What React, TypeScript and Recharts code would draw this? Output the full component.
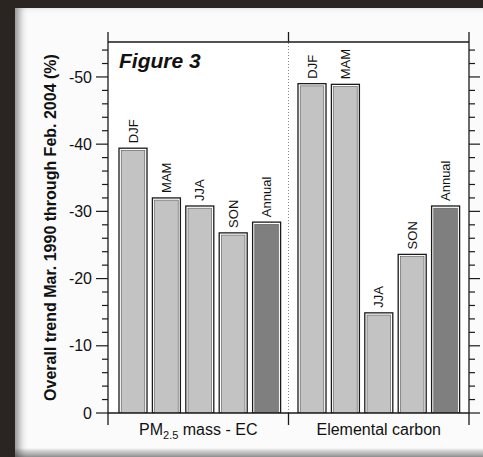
import { BarChart, Bar, XAxis, YAxis, Cell, LabelList, ReferenceLine } from "recharts";

// seasonal trend, Mar. 1990 - Feb. 2004 (%)
const seasons = ["DJF", "MAM", "JJA", "SON", "Annual"];
const pmMassEc = [-39.4, -32.0, -30.8, -26.8, -28.4];
const elementalCarbon = [-49.0, -48.9, -14.9, -23.6, -30.8];

const groupNames = ["PM2.5 mass - EC", "Elemental carbon"];
const majorTicks = [0, -10, -20, -30, -40, -50];
const allTicks = [
  0, -2, -4, -6, -8, -10, -12, -14, -16, -18, -20, -22, -24, -26, -28, -30,
  -32, -34, -36, -38, -40, -42, -44, -46, -48, -50, -52, -54,
];
const frameTicks = [0, 1, 2];
const groupTicks = [0, 0.5, 1, 1.5, 2];

const data = seasons.map((season, i) => ({
  season,
  pm: pmMassEc[i],
  ec: elementalCarbon[i],
}));

const FONT = "'Liberation Sans', Arial, Helvetica, sans-serif";
const INK = "#1a1a1a";
const LIGHT = "#c3c3c3";
const DARK = "#7f7f7f";

function BarShape(props: any) {
  const { x, y, width, height, fill } = props;
  const top = Math.min(y, y + height);
  const h = Math.abs(height);
  return (
    <g>
      <rect x={x} y={top} width={width} height={h} fill="#fff" stroke={INK} strokeWidth={1.3} />
      <rect
        x={x + 2.2}
        y={top + 2.2}
        width={Math.max(width - 4.4, 0)}
        height={Math.max(h - 2.2, 0)}
        fill={fill}
        stroke="#555"
        strokeWidth={0.6}
      />
    </g>
  );
}

function SeasonLabel(props: any) {
  const { x, y, width, height, value } = props;
  const top = Math.min(y, y + height);
  const cx = x + width / 2;
  const cy = top - 5;
  return (
    <text
      x={cx}
      y={cy}
      transform={`rotate(-90 ${cx} ${cy})`}
      textAnchor="start"
      dy="0.35em"
      fontSize={13}
      fontFamily={FONT}
      fill="#111"
    >
      {value}
    </text>
  );
}

function LeftTick(props: any) {
  const { x, y, payload } = props;
  const major = majorTicks.includes(payload.value);
  return (
    <g>
      <line x1={x - (major ? 12 : 6)} x2={x} y1={y} y2={y} stroke={INK} strokeWidth={1.2} />
      {major && (
        <text x={x - 16} y={y} dy="0.35em" textAnchor="end" fontSize={16} fontFamily={FONT} fill="#111">
          {payload.value}
        </text>
      )}
    </g>
  );
}

function RightTick(props: any) {
  const { x, y, payload } = props;
  const major = majorTicks.includes(payload.value);
  return <line x1={x} x2={x + (major ? 11 : 6)} y1={y} y2={y} stroke={INK} strokeWidth={1.2} />;
}

function TopTick(props: any) {
  const { x, y } = props;
  return <line x1={x} x2={x} y1={y} y2={y - 10} stroke={INK} strokeWidth={1.3} />;
}

function BottomTick(props: any) {
  const { x, y, payload } = props;
  if (Number.isInteger(payload.value)) {
    return <line x1={x} x2={x} y1={y} y2={y + 12} stroke={INK} strokeWidth={1.3} />;
  }
  const name = groupNames[Math.floor(payload.value)];
  const isPm = name.startsWith("PM2.5");
  return (
    <text x={x} y={y + 22} textAnchor="middle" fontSize={16} fontFamily={FONT} fill="#111">
      {isPm ? (
        <>
          <tspan>PM</tspan>
          <tspan fontSize={11} dy={4}>2.5</tspan>
          <tspan dy={-4}>{name.slice(5)}</tspan>
        </>
      ) : (
        name
      )}
    </text>
  );
}

function YTitle(props: any) {
  const { viewBox } = props;
  const cx = viewBox.x + 2;
  const cy = viewBox.y + viewBox.height / 2;
  return (
    <text
      x={cx}
      y={cy}
      transform={`rotate(-90 ${cx} ${cy})`}
      textAnchor="middle"
      dy="0.35em"
      fontSize={16}
      fontWeight="bold"
      fontFamily={FONT}
      fill="#111"
    >
      Overall trend Mar. 1990 through Feb. 2004 (%)
    </text>
  );
}

export default function App() {
  return (
    <div style={{ position: "relative", width: 483, height: 457, background: "#2a2521", overflow: "hidden" }}>
      <style>{`body{margin:0}`}</style>
      <div
        style={{
          position: "absolute",
          left: 15,
          top: 8,
          right: 0,
          bottom: 0,
          background: "linear-gradient(to bottom, #fbfbfb 0, #fbfbfb 440px, #d0d0d0 443px, #9a9a9a 449px)",
          boxShadow: "inset 8px 0 8px -4px rgba(0,0,0,0.45)",
        }}
      />
      <div style={{ position: "absolute", left: 108, top: 42, width: 361, height: 371, background: "#fff" }} />
      <div style={{ position: "absolute", left: 0, top: 0 }}>
        <BarChart width={483} height={457} data={data} margin={{ top: 32, right: 0, bottom: 14, left: 48 }}>
          <XAxis
            xAxisId="frame"
            dataKey="frameX"
            type="number"
            domain={[0, 2]}
            allowDataOverflow
            ticks={groupTicks}
            interval={0}
            height={30}
            tickSize={0}
            tickMargin={0}
            tickLine={false}
            axisLine={{ stroke: INK, strokeWidth: 1.3 }}
            tick={<BottomTick />}
          />
          <XAxis xAxisId="pm" dataKey="season" hide height={0} padding={{ left: 8, right: 186 }} />
          <XAxis xAxisId="ec" dataKey="season" hide height={0} padding={{ left: 187, right: 7 }} />
          <XAxis
            xAxisId="top"
            dataKey="frameX"
            orientation="top"
            type="number"
            domain={[0, 2]}
            allowDataOverflow
            ticks={frameTicks}
            interval={0}
            height={10}
            tickSize={0}
            tickMargin={0}
            tickLine={false}
            axisLine={{ stroke: INK, strokeWidth: 1.3 }}
            tick={<TopTick />}
          />
          <YAxis
            yAxisId="left"
            type="number"
            domain={[-55.2, 0]}
            reversed
            allowDataOverflow
            ticks={allTicks}
            interval={0}
            width={60}
            tickSize={0}
            tickMargin={0}
            tickLine={false}
            axisLine={{ stroke: INK, strokeWidth: 1.3 }}
            tick={<LeftTick />}
            label={{ content: <YTitle /> }}
          />
          <YAxis
            yAxisId="right"
            orientation="right"
            type="number"
            domain={[-55.2, 0]}
            reversed
            allowDataOverflow
            ticks={allTicks}
            interval={0}
            width={14}
            tickSize={0}
            tickMargin={0}
            tickLine={false}
            axisLine={{ stroke: INK, strokeWidth: 1.3 }}
            tick={<RightTick />}
          />
          <ReferenceLine
            x={1}
            xAxisId="frame"
            yAxisId="left"
            stroke="#888"
            strokeWidth={1}
            strokeDasharray="1 2"
          />
          <Bar dataKey="pm" xAxisId="pm" yAxisId="left" barSize={28} shape={<BarShape />} isAnimationActive={false}>
            {seasons.map((s) => (
              <Cell key={s} fill={s === "Annual" ? DARK : LIGHT} />
            ))}
            <LabelList dataKey="season" content={<SeasonLabel />} />
          </Bar>
          <Bar dataKey="ec" xAxisId="ec" yAxisId="left" barSize={28} shape={<BarShape />} isAnimationActive={false}>
            {seasons.map((s) => (
              <Cell key={s} fill={s === "Annual" ? DARK : LIGHT} />
            ))}
            <LabelList dataKey="season" content={<SeasonLabel />} />
          </Bar>
        </BarChart>
      </div>
      <div
        style={{
          position: "absolute",
          left: 119,
          top: 49,
          fontFamily: FONT,
          fontSize: 21,
          fontWeight: "bold",
          fontStyle: "italic",
          color: "#111",
          lineHeight: "24px",
        }}
      >
        Figure 3
      </div>
    </div>
  );
}
